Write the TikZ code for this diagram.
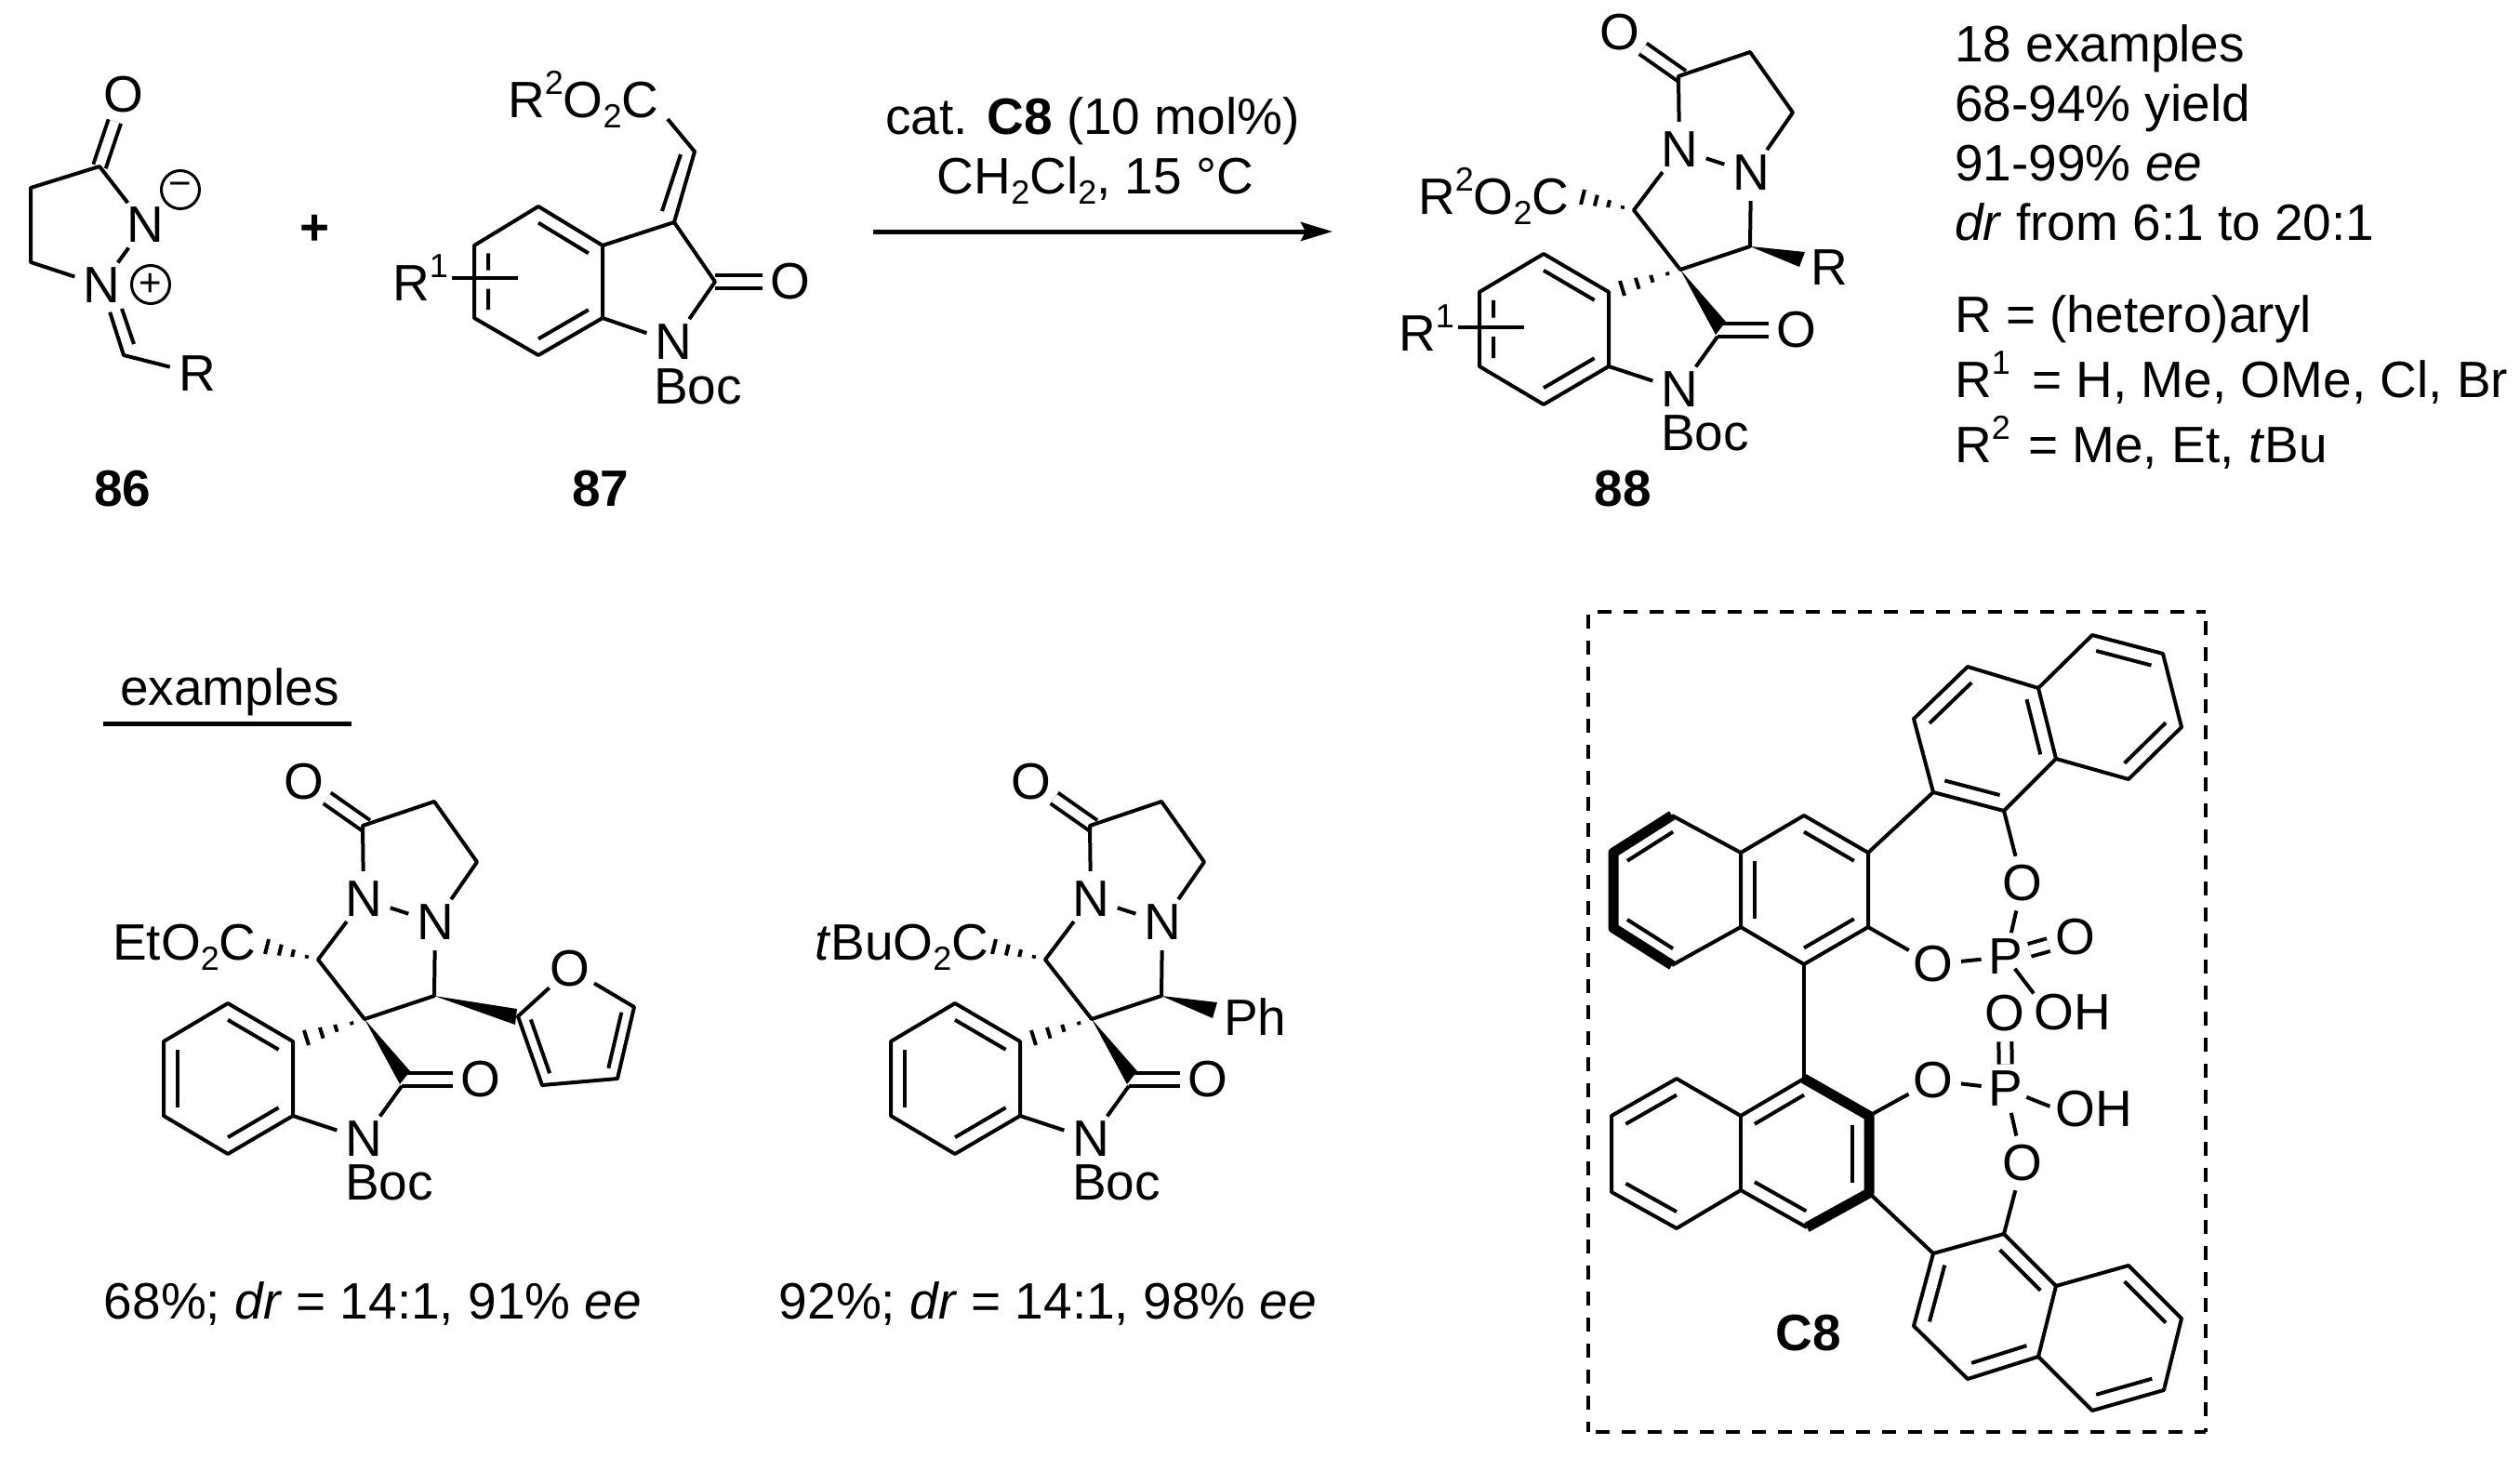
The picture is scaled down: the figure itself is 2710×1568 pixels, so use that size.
\documentclass[tikz,border=0pt]{standalone}
\usepackage{fontspec}
\setmainfont{Liberation Sans}
\usetikzlibrary{calc,arrows.meta}

\newcommand{\chemfont}{\fontsize{55}{60}\selectfont}
\newcommand{\lo}[1]{\raisebox{-11pt}{\fontsize{36}{36}\selectfont #1}}
\newcommand{\hi}[1]{\raisebox{25pt}{\fontsize{36}{36}\selectfont #1}}
\newcommand{\dbl}[4][.78]{\draw[bond] ($(#2)!#1!(#3)$) -- ($(#2)!#1!(#4)$);}
\newcommand{\gapdbl}[3]{
	\coordinate (gp) at ($(#1)!.78!(#2)$);
	\coordinate (gq) at ($(#1)!.78!(#3)$);
	\draw[bond] (gp) -- ($(gp)!.30!(gq)$) (gq) -- ($(gq)!.37!(gp)$);
}
\newcommand{\hashb}[3]{\foreach \pos in {.22,.49,.74,1} \draw[bond] ($(#1)!\pos!(#2)$) -- ($(#1)!\pos!(#3)$);}
\newcommand{\wedgeb}[3]{\fill (#1) -- (#2) -- (#3) -- cycle;}
\newcommand{\spirocore}{
	\foreach \n/\x/\y in {sp/0/0,ca/-2/-208,cam/2/-208,cb/75/-234,cc/121/-169,cd/-50/-64,ce/75/-25,cf/40/72,cg/40/65,
		ba/-147/-17,bb/-77/24,bc/-77/104,bd/-147/145,be/-216/104,bf/-216/24,bo/-147/64,
		wa/49/56,wb/38/70,ha/-103/-86,hb/-107/-70,hc/-65/12,hd/-60/28}
		\coordinate (\n) at (\x,\y);
	\node[atom] (oa) at (-65,-255) {O};
	\node[atom] (na) at (-1,-129) {N};
	\node[atom] (nb) at (76,-104) {N};
	\node[atom] (nc) at (-1,129) {N};
	\node[atom] (oc) at (125,65) {O};
	\node[txt] (boc) at (-21,194) {Boc};
	\draw[dbond] (oa) -- (cam);
	\draw[dbond] (cg) -- (oc);
	\draw[bond] (na) -- (ca) -- (cb) -- (cc) -- (nb);
	\draw[bond] (na) -- (nb);
	\draw[bond] (na) -- (cd) -- (sp) -- (ce) -- (nb);
	\draw[bond] (ba) -- (bb) -- (bc) -- (bd) -- (be) -- (bf) -- cycle;
	\dbl{bo}{ba}{bb}
	\dbl{bo}{bc}{bd}
	\draw[bond] (bc) -- (nc);
	\draw[bond] (nc) -- (cf);
	\wedgeb{sp}{wa}{wb}
	\hashb{cd}{ha}{hb}
	\hashb{sp}{hc}{hd}
}

\begin{document}
\begin{tikzpicture}[x=1pt,y=-1pt]
	\tikzstyle{every node}=[font=\chemfont,inner sep=0pt]
	\tikzstyle{bond}=[draw,line width=4pt,line join=round]
	\tikzstyle{dbond}=[draw,line width=4pt,double,double distance=10pt]
	\tikzstyle{tbond}=[draw,line width=11pt,line join=round]
	\tikzstyle{atom}=[circle,minimum size=60pt]
	\tikzstyle{patom}=[circle,minimum size=50pt]
	\tikzstyle{txt}=[anchor=base west]
	\tikzstyle{mid}=[anchor=base]
	\tikzstyle{chg}=[draw,circle,line width=3pt,minimum size=41pt,font=\fontsize{42}{42}\selectfont]
	\tikzstyle{frame}=[line width=4pt,dash pattern=on 15pt off 13pt]
	\useasboundingbox (0,0) rectangle (2710,1568);

	\foreach \n/\x/\y in {ma/107/179,mb/33/202,mc/33/282,md/133/382,me/131/332,mf/144/370}
		\coordinate (\n) at (\x,\y);
	\node[atom] (mo) at (133,102) {O};
	\node[atom] (mn) at (156,242) {N};
	\node[atom] (mp) at (109,307) {N};
	\node[atom] (mr) at (212,402) {R};
	\node[chg] (mm) at (194,204) {−};
	\node[chg] (mq) at (162,306) {+};
	\draw[dbond] (mo) -- (ma);
	\draw[bond] (mn) -- (ma) -- (mb) -- (mc) -- (mp);
	\draw[bond] (mn) -- (mp);
	\draw[bond] (mp) -- (md) -- (mr);
	\draw[bond] (me) -- (mf);
	\node[mid] (la) at (132,544) {\bfseries 86};
	\node[anchor=center] (plus) at (339,247) {\bfseries +};

	\foreach \n/\x/\y in {aa/579/222,ab/648/264,ac/648/342,ad/579/382,ae/510/342,af/510/264,ao/579/302,
		ag/725/239,ah/747/163,ai/732/166,aj/712/227,ak/769/303,al/718/128,am/557/299}
		\coordinate (\n) at (\x,\y);
	\node[txt] (ea) at (546,127) {R\hi{2}O\lo{2}C};
	\node[txt] (ra) at (422,323) {R\hi{1}};
	\node[atom] (ab1) at (850,303) {O};
	\node[atom] (an) at (724,368) {N};
	\node[txt] (abc) at (703,434) {Boc};
	\draw[dbond] (ak) -- (ab1);
	\draw[bond] (aa) -- (ab) -- (ac) -- (ad) -- (ae) -- (af) -- cycle;
	\dbl{ao}{aa}{ab}
	\dbl{ao}{ac}{ad}
	\gapdbl{ao}{af}{ae}
	\draw[bond,shorten <=4pt] (ra.east |- am) -- (am);
	\draw[bond] (ab) -- (ag) -- (ah) -- (al);
	\draw[bond] (ai) -- (aj);
	\draw[bond] (ag) -- (ak) -- (an) -- (ac);
	\node[mid] (lb) at (646,544) {\bfseries 87};

	\coordinate (ars) at (939,249);
	\coordinate (are) at (1433,249);
	\draw[line width=5pt,-{Stealth[length=34pt,width=20pt,inset=5pt]}] (ars) -- (are);
	\node[mid] (ca1) at (1175,145) {cat. \textbf{C8} (10 mol\%)};
	\node[mid] (ca2) at (1178,208) {CH\lo{2}Cl\lo{2}, 15 °C};

	\begin{scope}[shift={(1807,290)},name prefix=p-]
		\spirocore
		\coordinate (wc) at (134,-19);
		\coordinate (wd) at (128,-3);
		\coordinate (rb) at (-168,62);
		\node[atom] (r) at (160,-2) {R};
		\node[txt] (ester) at (-282,-60) {R\hi{2}O\lo{2}C};
		\node[txt] (ra) at (-303,87) {R\hi{1}};
		\wedgeb{ce}{wc}{wd}
		\gapdbl{bo}{bf}{be}
		\draw[bond,shorten <=4pt] (ra.east |- rb) -- (rb);
	\end{scope}
	\node[mid] (lc) at (1745,544) {\bfseries 88};

	\node[txt] (ta) at (2102,67) {18 examples};
	\node[txt] (tb) at (2102,131) {68-94\% yield};
	\node[txt] (tc) at (2102,194) {91-99\% \textit{ee}};
	\node[txt] (td) at (2102,258) {\textit{dr} from 6:1 to 20:1};
	\node[txt] (te) at (2102,357) {R = (hetero)aryl};
	\node[txt] (tf) at (2102,427) {R\hi{1}\hspace{8pt} = H, Me, OMe, Cl, Br};
	\node[txt] (tg) at (2102,497) {R\hi{2}\hspace{4pt} = Me, Et, \textit{t}Bu};

	\node[mid] (exa) at (247,758) {examples};
	\coordinate (exl) at (111,778);
	\coordinate (exr) at (378,778);
	\draw[line width=5pt] (exl) -- (exr);

	\begin{scope}[shift={(392,1096)},name prefix=x-]
		\spirocore
		\foreach \n/\x/\y in {fa/165/-3,fb/191/71,fc/272/64,fd/290/-13,fo/228/13,wc/164/-11,wd/162/6}
			\coordinate (\n) at (\x,\y);
		\node[atom] (oe) at (221,-54) {O};
		\node[txt] (ester) at (-271,-64) {EtO\lo{2}C};
		\draw[bond] (oe) -- (fd) -- (fc) -- (fb) -- (fa) -- (oe);
		\dbl{fo}{fa}{fb}
		\dbl{fo}{fc}{fd}
		\wedgeb{ce}{wc}{wd}
		\dbl{bo}{be}{bf}
	\end{scope}
	\node[mid] (ya) at (401,1418) {68\%; \textit{dr} = 14:1, 91\% \textit{ee}};

	\begin{scope}[shift={(1174,1096)},name prefix=y-]
		\spirocore
		\coordinate (wc) at (135,-18);
		\coordinate (wd) at (130,-1);
		\node[txt] (ph) at (142,17) {Ph};
		\node[txt] (ester) at (-298,-64) {\textit{t}BuO\lo{2}C};
		\wedgeb{ce}{wc}{wd}
		\dbl{bo}{be}{bf}
	\end{scope}
	\node[mid] (yb) at (1127,1418) {92\%; \textit{dr} = 14:1, 98\% \textit{ee}};

	\foreach \n/\x/\y in {fa/1718/658,fb/2372/658,fc/1716/1540,fd/2372/1540,fe/1708/661,ff/1708/1540,fg/2372/668}
		\coordinate (\n) at (\x,\y);
	\draw[frame] (fa) -- (fb);
	\draw[frame] (fc) -- (fd);
	\draw[frame] (fe) -- (ff);
	\draw[frame] (fg) -- (fd);

	\foreach \n/\x/\y in {a1/1798/877,a2/1872/917,a3/1872/997,a4/1798/1038,a5/1735/998,a6/1735/917,ao/1803/957,
		b1/1940/877,b2/2009/917,b3/2009/997,b4/1940/1037,bo/1940/957,
		c1/2079/852,c2/2155/872,c3/2211/816,c4/2192/740,c5/2116/717,c6/2058/773,co/2135/795,
		d1/2250/683,d2/2326/703,d3/2346/782,d4/2289/838,do/2269/760,
		e1/1803/1160,e2/1872/1200,e3/1872/1280,e4/1803/1321,e5/1733/1282,e6/1733/1200,eo/1803/1240,
		g1/1940/1160,g2/2010/1200,g3/2010/1283,g4/1943/1320,go/1940/1240,
		h1/2079/1348,h2/2155/1327,h3/2211/1383,h4/2192/1459,h5/2116/1483,h6/2058/1426,ho/2135/1405,
		i1/2289/1361,i2/2346/1418,i3/2327/1495,i4/2250/1517,io/2269/1439}
		\coordinate (\n) at (\x,\y);
	\node[atom] (o1) at (2175,950) {O};
	\node[atom] (o2) at (2079,1037) {O};
	\node[patom] (pa) at (2157,1029) {P};
	\node[atom] (o3) at (2232,1008) {O};
	\node[txt] (oh1) at (2187,1107) {OH};
	\node[atom] (o4) at (2156,1090) {O};
	\node[patom] (pb) at (2157,1171) {P};
	\node[atom] (o5) at (2079,1162) {O};
	\node[atom] (o6) at (2175,1251) {O};
	\node[txt] (oh2) at (2210,1211) {OH};
	\node[mid] (ld) at (1945,1452) {\bfseries C8};

	\draw[tbond] (a1) -- (a6) -- (a5) -- (a4);
	\draw[bond] (a1) -- (a2) -- (a3) -- (a4);
	\draw[bond] (a2) -- (b1) -- (b2) -- (b3) -- (b4) -- (a3);
	\dbl{ao}{a1}{a6}
	\dbl{ao}{a4}{a5}
	\dbl{bo}{a2}{a3}
	\dbl{bo}{b1}{b2}
	\dbl{bo}{b3}{b4}
	\draw[bond] (c1) -- (c2) -- (c3) -- (c4) -- (c5) -- (c6) -- cycle;
	\draw[bond] (c4) -- (d1) -- (d2) -- (d3) -- (d4) -- (c3);
	\dbl{co}{c1}{c2}
	\dbl{co}{c3}{c4}
	\dbl{co}{c5}{c6}
	\dbl{do}{d1}{d2}
	\dbl{do}{d3}{d4}
	\draw[bond] (b2) -- (c1);
	\draw[bond] (c2) -- (o1);
	\draw[bond] (o1) -- (pa);
	\draw[bond] (b3) -- (o2);
	\draw[bond] (o2) -- (pa);
	\draw[dbond] (pa) -- (o3);
	\draw[bond,shorten <=16pt] (pa.center) -- (oh1.north west);

	\draw[bond] (b4) -- (g1);
	\draw[tbond] (g1) -- (g2) -- (g3) -- (g4);
	\draw[bond] (g4) -- (e3) -- (e4) -- (e5) -- (e6) -- (e1) -- (e2) -- (g1);
	\draw[bond] (e2) -- (e3);
	\dbl{eo}{e1}{e6}
	\dbl{eo}{e4}{e5}
	\dbl{go}{e2}{g1}
	\dbl{go}{e3}{g4}
	\dbl[.74]{go}{g2}{g3}
	\draw[bond] (g2) -- (o5);
	\draw[bond] (o5) -- (pb);
	\draw[dbond] (pb) -- (o4);
	\draw[bond] (pb) -- (o6);
	\draw[bond,shorten <=24pt,shorten >=6pt] (pb.center) -- (oh2.west);
	\draw[bond] (g3) -- (h1);
	\draw[bond] (o6) -- (h2);
	\draw[bond] (h1) -- (h2) -- (h3) -- (h4) -- (h5) -- (h6) -- cycle;
	\draw[bond] (h3) -- (i1) -- (i2) -- (i3) -- (i4) -- (h4);
	\dbl{ho}{h1}{h6}
	\dbl{ho}{h2}{h3}
	\dbl{ho}{h4}{h5}
	\dbl{io}{i1}{i2}
	\dbl{io}{i3}{i4}
\end{tikzpicture}
\end{document}
